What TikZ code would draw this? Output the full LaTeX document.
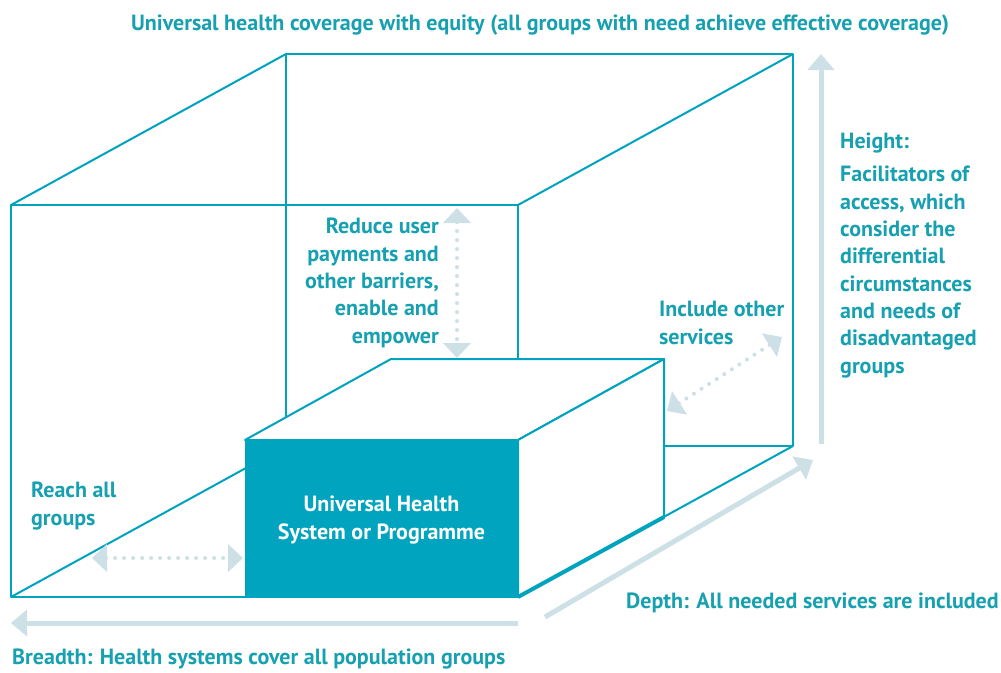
\documentclass[tikz,border=0pt]{standalone}
\usepackage{fontspec}
\setmainfont{PT Sans}
\usetikzlibrary{arrows.meta, positioning, calc}
\definecolor{lineTeal}{HTML}{00A3BE}
\definecolor{boxTeal}{HTML}{00A4BF}
\definecolor{textTeal}{HTML}{17A0B0}
\definecolor{arrowGrey}{HTML}{CCE0E5}
\tikzset{
    cubeEdge/.style={draw=lineTeal, line width=2pt, line join=round},
    dimArrow/.style={draw=arrowGrey, line width=5pt, -{Triangle[width=26pt,length=16pt]}},
    dotArrow/.style={draw=arrowGrey, line width=4pt, line cap=round, dash pattern=on 0pt off 9pt,
        {Triangle[width=27pt,length=15pt]}-{Triangle[width=27pt,length=15pt]}},
    labelText/.style={text=textTeal, font=\bfseries\fontsize{22}{27.3}\selectfont, inner sep=0pt}
}
\begin{document}
\begin{tikzpicture}[x=1pt, y=-1pt]
        \useasboundingbox (0,0) rectangle (1001,672);
        % Big cube
        \coordinate (F1) at (11,597);  \coordinate (F2) at (518,597);
        \coordinate (F3) at (518,205); \coordinate (F4) at (11,205);
        \coordinate (B1) at (286,446); \coordinate (B2) at (793,446);
        \coordinate (B3) at (793,54);  \coordinate (B4) at (286,54);
        \draw[cubeEdge] (F1) -- (F2) -- (F3) -- (F4) -- cycle;
        \draw[cubeEdge] (B1) -- (B2) -- (B3) -- (B4) -- cycle;
        \foreach \k in {1,...,4} {
            \draw[cubeEdge] (F\k) -- (B\k);
        }
        % Small box
        \coordinate (s1) at (245,597); \coordinate (s2) at (518,597);
        \coordinate (s3) at (518,440); \coordinate (s4) at (245,440);
        \coordinate (t2) at (664,517); \coordinate (t3) at (664,359);
        \coordinate (t4) at (391,359);
        \draw[cubeEdge, fill=white] (s4) -- (t4) -- (t3) -- (s3) -- cycle;
        \draw[cubeEdge, fill=white] (s3) -- (t3) -- (t2) -- (s2) -- cycle;
        \fill[boxTeal] (s1) rectangle (s3);
        \draw[lineTeal, line width=4pt] (s2) -- (t2);
        \node[labelText, text=white, anchor=base, align=center] (system) at (381.5,539)
            {Universal Health\\System or Programme};
        % Dimension arrows
        \coordinate (hA) at (821,444); \coordinate (hB) at (821,54);
        \coordinate (dA) at (545,617); \coordinate (dB) at (813,460);
        \coordinate (bA) at (518,623); \coordinate (bB) at (11,623);
        \draw[dimArrow] (hA) -- (hB);
        \draw[dimArrow] (dA) -- (dB);
        \draw[dimArrow] (bA) -- (bB);
        % Dotted arrows
        \coordinate (rA) at (92,558);  \coordinate (rB) at (243,558);
        \coordinate (uA) at (457,208); \coordinate (uB) at (457,358);
        \coordinate (iA) at (667,411); \coordinate (iB) at (782,337);
        \draw[dotArrow] (rA) -- (rB);
        \draw[dotArrow] (uA) -- (uB);
        \draw[dotArrow] (iA) -- (iB);
        % Labels (base = last line)
        \node[labelText, anchor=base] (title) at (540,30)
            {Universal health coverage with equity (all groups with need achieve effective coverage)};
        \node[labelText, anchor=base west] (heightHead) at (840,148) {Height:};
        \node[labelText, anchor=base west, align=left] (heightText) at (840,373)
            {Facilitators of\\access, which\\consider the\\differential\\circumstances\\and needs of\\disadvantaged\\groups};
        \node[labelText, anchor=base west, align=left] (include) at (659,344) {Include other\\services};
        \node[labelText, anchor=base east, align=right] (reduce) at (439,343)
            {Reduce user\\payments and\\other barriers,\\enable and\\empower};
        \node[labelText, anchor=base west, align=left] (reach) at (31,525) {Reach all\\groups};
        \node[labelText, anchor=base west] (depth) at (626,608) {Depth: All needed services are included};
        \node[labelText, anchor=base west] (breadth) at (12,664) {Breadth: Health systems cover all population groups};
    \end{tikzpicture}
\end{document}
